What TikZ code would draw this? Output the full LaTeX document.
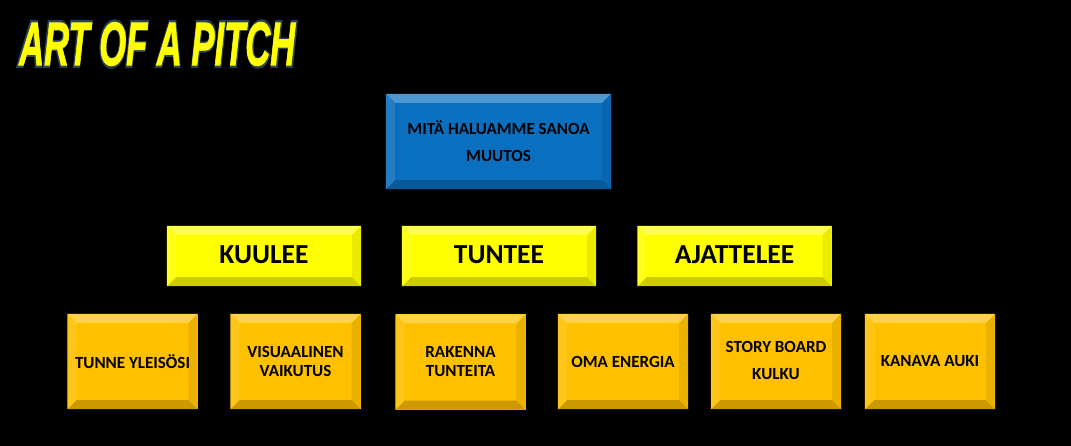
\documentclass[tikz,border=0pt]{standalone}
\usepackage{fontspec}
\setmainfont{Carlito}
\newfontfamily\titlefont{Liberation Sans}[FakeBold=1.5]
\newfontfamily\titleglowfont{Liberation Sans}[FakeBold=6]
\usetikzlibrary{calc}
\definecolor{bgblack}{HTML}{000000}
\definecolor{boxblue}{HTML}{0B6FBF}
\definecolor{boxyellow}{HTML}{FFFF00}
\definecolor{boxgold}{HTML}{FFC000}
\definecolor{titleyellow}{HTML}{FFFF00}
\definecolor{glow}{HTML}{2A4258}
\newcommand\bevelbox[3]{%
  \fill[#2!72!white] (#1.north west) -- (#1.north east) -- ($(#1.north east)+(-#3,#3)$) -- ($(#1.north west)+(#3,#3)$) -- cycle;
  \fill[#2!80!black] (#1.south west) -- (#1.south east) -- ($(#1.south east)+(-#3,-#3)$) -- ($(#1.south west)+(#3,-#3)$) -- cycle;
  \fill[#2!90!white] (#1.north west) -- ($(#1.north west)+(#3,#3)$) -- ($(#1.south west)+(#3,-#3)$) -- (#1.south west) -- cycle;
  \fill[#2!92!black] (#1.north east) -- ($(#1.north east)+(-#3,#3)$) -- ($(#1.south east)+(-#3,-#3)$) -- (#1.south east) -- cycle;
}
\begin{document}
\begin{tikzpicture}[x=1pt,y=-1pt,
  boxbase/.style={rectangle, inner sep=0pt, align=center, text=black},
  topbox/.style={boxbase, fill=boxblue, minimum width=225pt, minimum height=95pt},
  midbox/.style={boxbase, fill=boxyellow, minimum width=194pt, minimum height=60pt},
  lowbox/.style={boxbase, fill=boxgold, minimum width=130pt, minimum height=95pt},
  toplabel/.style={boxbase, font=\fontsize{17}{27}\bfseries},
  midlabel/.style={boxbase, font=\fontsize{27.5}{30}\bfseries},
  lowlabel/.style={boxbase, font=\fontsize{17}{19}\bfseries},
  titletext/.style={inner sep=0pt, anchor=west}
]
\fill[bgblack] (0,0) rectangle (1071,446);
\useasboundingbox (0,0) rectangle (1071,446);

% title with glow
\node[titletext, text=glow] (titleglow) at (18,44) {\resizebox{278pt}{45pt}{\titleglowfont\bfseries\itshape ART OF A PITCH}};
\node[titletext, text=titleyellow] (title) at (19,44) {\resizebox{276pt}{43pt}{\titlefont\bfseries\itshape ART OF A PITCH}};

% top
\node[topbox] (top) at (498.5,141.5) {};
\bevelbox{top}{boxblue}{9}
\node[toplabel] (toptext) at (top.center) {MITÄ HALUAMME SANOA\\MUUTOS};

% middle
\node[midbox] (kuulee) at (264,256) {};
\node[midbox] (tuntee) at (499,256) {};
\node[midbox] (ajattelee) at (734.5,256) {};
\foreach \n in {kuulee,tuntee,ajattelee}{\bevelbox{\n}{boxyellow}{9}}
\node[midlabel] at ($(kuulee.center)+(0,-1)$) {KUULEE};
\node[midlabel] at ($(tuntee.center)+(0,-1)$) {TUNTEE};
\node[midlabel] at ($(ajattelee.center)+(0,-1)$) {AJATTELEE};

% bottom
\node[lowbox] (b1) at (132.5,361.5) {};
\node[lowbox] (b2) at (295.5,361.5) {};
\node[lowbox] (b3) at (460.5,362) {};
\node[lowbox] (b4) at (623,361.5) {};
\node[lowbox] (b5) at (776,361.5) {};
\node[lowbox] (b6) at (930,361.5) {};
\foreach \n in {b1,b2,b3,b4,b5,b6}{\bevelbox{\n}{boxgold}{9}}
\node[lowlabel] at (b1.center) {TUNNE YLEISÖSI};
\node[lowlabel] at (b2.center) {VISUAALINEN\\VAIKUTUS};
\node[lowlabel] at (b3.center) {RAKENNA\\TUNTEITA};
\node[lowlabel] at (b4.center) {OMA ENERGIA};
\node[lowlabel, font=\fontsize{17}{27}\bfseries] at ($(b5.center)+(0,-1)$) {STORY BOARD\\KULKU};
\node[lowlabel] at (b6.center) {KANAVA AUKI};
\end{tikzpicture}
\end{document}
